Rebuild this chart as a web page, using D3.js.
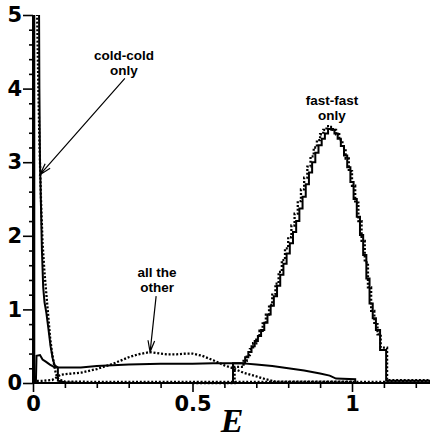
<!DOCTYPE html>
<html><head><meta charset="utf-8">
<script src="https://cdn.jsdelivr.net/npm/d3@7"></script>
<style>
html,body{margin:0;padding:0;background:#fff;}
svg{display:block;}
</style>
</head><body>
<svg id="c" width="430" height="438"></svg>
<script>
// ---------- data ----------
const xMajorTicks = [0, 0.5, 1];
const xTickLabels = ["0", "0.5", "1"];
const xMinorTicks = [0.1, 0.2, 0.3, 0.4, 0.6, 0.7, 0.8, 0.9, 1.1, 1.2];
const yMajorTicks = [0, 1, 2, 3, 4, 5];
const yTickLabels = ["0", "1", "2", "3", "4", "5"];
const yMinorTicks = [0.2,0.4,0.6,0.8,1.2,1.4,1.6,1.8,2.2,2.4,2.6,2.8,3.2,3.4,3.6,3.8,4.2,4.4,4.6,4.8];

// cold-cold only (simulation, solid)
const coldSolidE = [0.004, 0.004, 0.018, 0.020, 0.022, 0.025, 0.028, 0.032, 0.036, 0.042, 0.048, 0.055, 0.062, 0.068, 0.078, 0.078, 0.100, 0.150];
const coldSolidV = [0,     6.0,   6.0,   4.0,   3.0,   2.4,   1.8,   1.3,   1.1,   0.95,  0.75,  0.50,  0.33,  0.24,  0.21,  0.03,  0.01,  0];
// cold-cold only (theory, dotted)
const coldDotE = [0.002, 0.002, 0.010, 0.013, 0.016, 0.020, 0.025, 0.030, 0.036, 0.042, 0.048, 0.054, 0.060, 0.066, 0.072, 0.080, 0.100, 0.200, 0.500, 1.250];
const coldDotV = [0,     6.0,   6.0,   5.0,   4.2,   3.3,   2.5,   1.9,   1.5,   1.2,   0.9,   0.6,   0.4,   0.25,  0.12,  0.05,  0.02,  0.015, 0.015, 0.015];

// all the other (solid)
const otherSolidE = [0.009, 0.011, 0.022, 0.030, 0.040, 0.053, 0.065, 0.075, 0.100, 0.150, 0.200, 0.250, 0.300, 0.400, 0.500, 0.565, 0.650, 0.700, 0.750, 0.800, 0.850, 0.900, 0.930, 0.950, 1.010, 1.010];
const otherSolidV = [0,     0.37,  0.38,  0.32,  0.29,  0.25,  0.22,  0.21,  0.21,  0.21,  0.23,  0.24,  0.25,  0.26,  0.26,  0.27,  0.27,  0.25,  0.23,  0.20,  0.17,  0.13,  0.10,  0.06,  0.05,  0];
// all the other (dotted)
const otherDotE = [0.000, 0.030, 0.060, 0.075, 0.085, 0.100, 0.150, 0.200, 0.250, 0.300, 0.330, 0.367, 0.400, 0.420, 0.450, 0.480, 0.500, 0.530, 0.565, 0.600, 0.627, 0.660, 0.700, 0.730, 0.760, 0.800, 1.000];
const otherDotV = [0.03,  0.03,  0.04,  0.08,  0.11,  0.12,  0.14,  0.19,  0.26,  0.35,  0.39,  0.42,  0.40,  0.39,  0.39,  0.40,  0.40,  0.37,  0.31,  0.24,  0.20,  0.14,  0.09,  0.05,  0.02,  0.02,  0.02];

// fast-fast only (solid step histogram)
const ffSolidE = [0.500, 0.627, 0.665, 0.675, 0.685, 0.695, 0.705, 0.715, 0.725, 0.735, 0.745, 0.755, 0.765, 0.775, 0.785, 0.795, 0.805, 0.815, 0.825, 0.835, 0.845, 0.855, 0.865, 0.875, 0.885, 0.895, 0.905, 0.915, 0.925, 0.935, 0.945, 0.955, 0.965, 0.975, 0.985, 0.995, 1.005, 1.015, 1.025, 1.035, 1.045, 1.055, 1.065, 1.075, 1.088, 1.107, 1.250];
const ffSolidV = [0,     0.27,  0.35,  0.42,  0.50,  0.57,  0.64,  0.72,  0.82,  0.93,  1.05,  1.18,  1.32,  1.47,  1.62,  1.76,  1.90,  2.05,  2.20,  2.37,  2.53,  2.70,  2.86,  3.00,  3.13,  3.23,  3.32,  3.39,  3.45,  3.44,  3.39,  3.32,  3.22,  3.09,  2.93,  2.73,  2.50,  2.26,  2.01,  1.74,  1.42,  1.08,  0.88,  0.72,  0.45,  0.03,  0.03];
// fast-fast only (dotted)
const ffDotE = [0.500, 0.632, 0.660, 0.670, 0.680, 0.690, 0.700, 0.710, 0.720, 0.730, 0.740, 0.750, 0.760, 0.770, 0.780, 0.790, 0.800, 0.810, 0.820, 0.830, 0.840, 0.850, 0.860, 0.870, 0.880, 0.890, 0.900, 0.910, 0.920, 0.930, 0.940, 0.950, 0.960, 0.970, 0.980, 0.990, 1.000, 1.010, 1.020, 1.030, 1.040, 1.050, 1.060, 1.070, 1.080, 1.090, 1.110, 1.250];
const ffDotV = [0,     0.22,  0.30,  0.38,  0.46,  0.54,  0.62,  0.71,  0.81,  0.93,  1.06,  1.20,  1.35,  1.51,  1.67,  1.83,  1.98,  2.14,  2.30,  2.47,  2.63,  2.79,  2.94,  3.08,  3.20,  3.30,  3.38,  3.44,  3.49,  3.48,  3.44,  3.38,  3.30,  3.19,  3.05,  2.88,  2.68,  2.45,  2.20,  1.93,  1.64,  1.30,  0.98,  0.80,  0.66,  0.48,  0.04,  0.04];

// annotations (label anchor in data units)
const annotations = [
  {lines: ["cold-cold", "only"], at: [0.285, 4.39], from: [0.288, 4.14], to: [0.022, 2.83]},
  {lines: ["all the", "other"], at: [0.389, 1.44], from: [0.386, 1.18], to: [0.367, 0.42]},
  {lines: ["fast-fast", "only"], at: [0.937, 3.78], from: null, to: null}
];

// ---------- chart ----------
const svg = d3.select("#c");
const x = d3.scaleLinear().domain([0, 1.25]).range([33, 431.75]);
const y = d3.scaleLinear().domain([0, 5]).range([383, 15]);

const zip = (a, b) => a.map((v, i) => [v, b[i]]);

svg.append("defs").append("clipPath").attr("id", "clip")
  .append("rect").attr("x", 0).attr("y", y(5)).attr("width", 430).attr("height", y(0) - y(5) + 10);

// axes
const tickFont = "'DejaVu Sans', sans-serif";
function styleAxis(g) {
  g.select(".domain").attr("stroke", "#000").attr("stroke-width", 2);
  g.selectAll(".tick line").attr("stroke", "#000").attr("stroke-width", 1.6);
  g.selectAll(".tick text").attr("font-family", tickFont).attr("font-weight", "bold")
    .attr("font-size", 21).attr("fill", "#000");
}
const gx = svg.append("g").attr("transform", `translate(0,${y(0)})`);
gx.append("g").call(d3.axisBottom(x).tickValues(xMinorTicks).tickSize(5).tickFormat("")).call(styleAxis);
gx.append("g").call(d3.axisBottom(x).tickValues(xMajorTicks).tickSize(9).tickPadding(4)
  .tickFormat((d, i) => xTickLabels[i])).call(styleAxis);
gx.selectAll(".domain").attr("d", `M${x(0)},0H${x(1.25)}`);

const gy = svg.append("g").attr("transform", `translate(${x(0)},0)`);
gy.append("g").call(d3.axisLeft(y).tickValues(yMinorTicks).tickSize(4).tickFormat("")).call(styleAxis);
gy.append("g").call(d3.axisLeft(y).tickValues(yMajorTicks).tickSize(10).tickPadding(1)
  .tickFormat((d, i) => yTickLabels[i])).call(styleAxis);
gy.selectAll(".domain").attr("d", `M0,${y(0)}V${y(5)}`);

// lines
const lineLin = d3.line().x(d => x(d[0])).y(d => y(d[1]));
const lineStep = d3.line().x(d => x(d[0])).y(d => y(d[1])).curve(d3.curveStepAfter);
const plot = svg.append("g").attr("clip-path", "url(#clip)");

function draw(gen, data, dotted) {
  plot.append("path").datum(data).attr("d", gen)
    .attr("fill", "none").attr("stroke", "#000")
    .attr("stroke-width", dotted ? 2.3 : 2)
    .attr("stroke-dasharray", dotted ? "2,1.8" : null)
    .attr("stroke-linejoin", "miter");
}
draw(lineLin, zip(otherSolidE, otherSolidV), false);
draw(lineLin, zip(otherDotE, otherDotV), true);
draw(lineStep, zip(ffSolidE, ffSolidV), false);
draw(lineStep, zip(ffDotE, ffDotV), true);
draw(lineLin, zip(coldSolidE, coldSolidV), false);
draw(lineLin, zip(coldDotE, coldDotV), true);

// annotations
const ann = svg.append("g");
annotations.forEach(a => {
  const t = ann.append("text").attr("text-anchor", "middle")
    .attr("font-family", "'Liberation Sans', Arial, sans-serif").attr("font-weight", "bold")
    .attr("font-size", 13.5).attr("fill", "#000");
  a.lines.forEach((s, i) => {
    t.append("tspan").attr("x", x(a.at[0])).attr("y", y(a.at[1]) + i * 15).text(s);
  });
  if (a.from) {
    const x1 = x(a.from[0]), y1 = y(a.from[1]), x2 = x(a.to[0]), y2 = y(a.to[1]);
    const ang = Math.atan2(y2 - y1, x2 - x1);
    const L = 12, spread = 0.28;
    const b1 = [x2 - L * Math.cos(ang - spread), y2 - L * Math.sin(ang - spread)];
    const b2 = [x2 - L * Math.cos(ang + spread), y2 - L * Math.sin(ang + spread)];
    ann.append("path")
      .attr("d", `M${x1},${y1}L${x2},${y2}M${b1[0]},${b1[1]}L${x2},${y2}L${b2[0]},${b2[1]}`)
      .attr("fill", "none").attr("stroke", "#000").attr("stroke-width", 1.2);
  }
});

// axis title
svg.append("text").attr("x", 232).attr("y", 432).attr("text-anchor", "middle")
  .attr("font-family", "'Liberation Serif', 'Times New Roman', serif")
  .attr("font-style", "italic").attr("font-weight", "bold").attr("font-size", 34)
  .attr("fill", "#000").text("E");
</script>
</body></html>
